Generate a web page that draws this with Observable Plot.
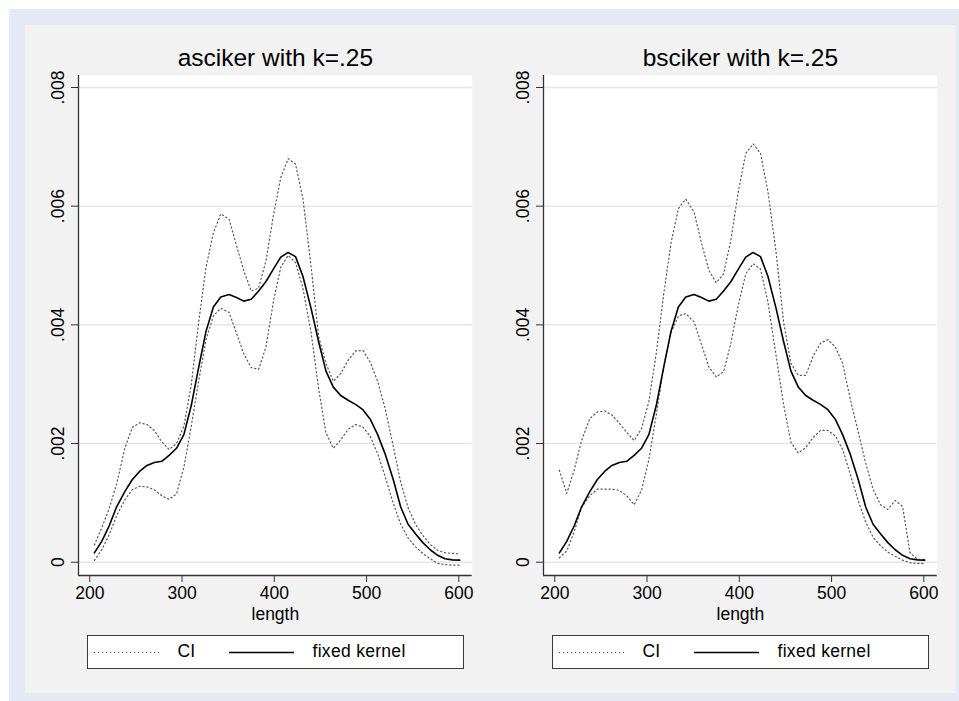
<!DOCTYPE html>
<html>
<head>
<meta charset="utf-8">
<script src="https://cdn.jsdelivr.net/npm/d3@7"></script>
<script src="https://cdn.jsdelivr.net/npm/@observablehq/plot@0.6"></script>
<style>
  html, body { margin: 0; padding: 0; background: #ffffff; width: 959px; height: 701px; overflow: hidden; }
  body { position: relative; font-family: "Liberation Sans", Arial, Helvetica, sans-serif; }
  #outer { position: absolute; left: 9px; top: 9px; width: 950px; height: 692px; background: #e5e9f3; }
  #inner { position: absolute; left: 25px; top: 25px; width: 931px; height: 668px; background: #f2f2f2; }
  .panel { position: absolute; top: 25px; }
  .legend { position: absolute; top: 635px; width: 377px; height: 34px; box-sizing: border-box;
            border: 1.3px solid #3a3a3a; background: #ffffff; }
  .legend svg { position: absolute; left: 0; top: 0; }
</style>
</head>
<body>
<div id="outer"></div>
<div id="inner"></div>
<div id="p1" class="panel" style="left:25px"></div>
<div id="p2" class="panel" style="left:490px"></div>
<div id="l1" class="legend" style="left:87px"></div>
<div id="l2" class="legend" style="left:552px"></div>
<script>
// ---- data ----
const lengthGrid = [205, 213, 221, 229, 238, 246, 254, 262, 270, 278,
  286, 294, 302, 310, 318, 326, 334, 342, 351, 359,
  367, 375, 383, 391, 399, 407, 415, 423, 431, 440,
  448, 456, 464, 472, 480, 488, 496, 504, 512, 520,
  529, 537, 545, 553, 561, 569, 577, 585, 593, 601];

const fixedKernel = [0.000157, 0.00035, 0.00061, 0.00093, 0.00119, 0.00139, 0.00153, 0.00163, 0.00168, 0.0017,
  0.0018, 0.00192, 0.00215, 0.00264, 0.00328, 0.00389, 0.0043, 0.00447, 0.00451, 0.00446,
  0.0044, 0.00443, 0.00457, 0.00473, 0.00494, 0.00514, 0.00522, 0.00515, 0.00482, 0.00427,
  0.00372, 0.00322, 0.00295, 0.00281, 0.00273, 0.00266, 0.00257, 0.00241, 0.00215, 0.00183,
  0.00139, 0.00093, 0.00064, 0.00048, 0.00033, 0.00021, 0.000116, 0.000058, 0.00004, 0.000035];

const asciUpper = [0.00029, 0.00058, 0.0009, 0.00131, 0.00192, 0.00227, 0.00235, 0.00232, 0.00222, 0.00203,
  0.0019, 0.002, 0.00229, 0.00299, 0.00404, 0.00497, 0.00555, 0.00587, 0.00578, 0.00534,
  0.00491, 0.00457, 0.00462, 0.00508, 0.00584, 0.00648, 0.0068, 0.00671, 0.00613, 0.00497,
  0.00381, 0.00335, 0.00305, 0.00318, 0.0034, 0.00356, 0.00357, 0.00337, 0.00305, 0.0026,
  0.00195, 0.00135, 0.00092, 0.00064, 0.00045, 0.0003, 0.0002, 0.00016, 0.00015, 0.00014];

const asciLower = [0.00003, 0.00021, 0.00046, 0.00078, 0.00105, 0.00122, 0.00128, 0.00127, 0.00122, 0.00112,
  0.00106, 0.00115, 0.0016, 0.00229, 0.00305, 0.00375, 0.00415, 0.00428, 0.00421, 0.00386,
  0.00351, 0.00328, 0.00325, 0.00363, 0.00439, 0.00497, 0.00517, 0.00505, 0.00462, 0.00386,
  0.00293, 0.00218, 0.00192, 0.00206, 0.00224, 0.00232, 0.00228, 0.00212, 0.00183, 0.00145,
  0.00099, 0.00064, 0.00041, 0.00026, 0.000145, 0.00006, -0.00002, -0.00004, -0.00005, -0.00005];

const bsciUpper = [0.00155, 0.00116, 0.00155, 0.00205, 0.00242, 0.00253, 0.00255, 0.00248, 0.00234, 0.00219,
  0.00205, 0.00225, 0.00271, 0.00352, 0.00451, 0.00538, 0.00596, 0.00612, 0.0059, 0.00538,
  0.00492, 0.00471, 0.00486, 0.00544, 0.00625, 0.00689, 0.00705, 0.00689, 0.00625, 0.00521,
  0.00405, 0.00335, 0.00315, 0.00315, 0.00347, 0.00369, 0.00375, 0.00363, 0.00335, 0.00277,
  0.00219, 0.00167, 0.00123, 0.00097, 0.00089, 0.00104, 0.00094, 0.00016, 0.00005, 0.00005];

const bsciLower = [0.000075, 0.00019, 0.00051, 0.00092, 0.00112, 0.00123, 0.00123, 0.00123, 0.00121, 0.00112,
  0.00097, 0.00121, 0.00173, 0.00248, 0.00329, 0.00387, 0.00415, 0.00419, 0.00405, 0.00367,
  0.00329, 0.00312, 0.00321, 0.0037, 0.00434, 0.00486, 0.00503, 0.00494, 0.00439, 0.00347,
  0.00266, 0.00202, 0.00184, 0.00193, 0.0021, 0.00222, 0.00222, 0.00213, 0.0019, 0.0015,
  0.00103, 0.00068, 0.00042, 0.00028, 0.00017, 0.0001, 0.000035, -0.00001, -0.00002, -0.00002];

const xTicks = [200, 300, 400, 500, 600];
const yTicks = [0, 0.002, 0.004, 0.006, 0.008];
const yTickLabels = ["0", ".002", ".004", ".006", ".008"];
const panelTitles = ["asciker with k=.25", "bsciker with k=.25"];
const xLabel = "length";
const legendLabels = ["CI", "fixed kernel"];

const xDomain = [187.8, 614.5];
const yDomain = [-0.000224, 0.008202];

const FONT = "'Liberation Sans', Arial, Helvetica, sans-serif";
const dotted = {stroke: "#555555", strokeWidth: 1.2, strokeDasharray: "1.2,2.8"};

function makePanel(title, upper, lower) {
  const rows = lengthGrid.map((x, i) => ({length: x, upper: upper[i], lower: lower[i], kernel: fixedKernel[i]}));
  return Plot.plot({
    width: 465,
    height: 605,
    marginLeft: 53,
    marginRight: 18.3,
    marginTop: 50,
    marginBottom: 55,
    x: {domain: xDomain},
    y: {domain: yDomain},
    style: {fontFamily: FONT, background: "transparent", color: "#000", fontSize: "17.5px", overflow: "visible"},
    marks: [
      Plot.frame({fill: "#ffffff", stroke: null}),
      Plot.gridY(yTicks, {stroke: "#e6e6e6", strokeOpacity: 1, strokeWidth: 1.5}),
      Plot.ruleX([xDomain[0]], {stroke: "#333", strokeWidth: 1.3}),
      Plot.ruleY([yDomain[0]], {stroke: "#333", strokeWidth: 1.3}),
      Plot.axisX({ticks: xTicks, tickSize: 7, tickPadding: 4, fontSize: 17.5, label: null, stroke: "#333"}),
      Plot.axisY({ticks: yTicks, tickSize: 7, tickFormat: () => "", label: null, stroke: "#333"}),
      Plot.text(yTicks, {y: d => d, text: (d, i) => yTickLabels[i], frameAnchor: "left", dx: -15,
        rotate: -90, textAnchor: "middle", lineAnchor: "bottom", fontSize: 17.5, fill: "#000"}),
      Plot.line(rows, {x: "length", y: "upper", ...dotted}),
      Plot.line(rows, {x: "length", y: "lower", ...dotted}),
      Plot.line(rows, {x: "length", y: "kernel", stroke: "#000", strokeWidth: 1.6}),
      Plot.text([title], {text: d => d, frameAnchor: "top", dy: -10, lineAnchor: "bottom", fontSize: 24.5, fill: "#000"}),
      Plot.text([xLabel], {text: d => d, frameAnchor: "bottom", dy: 44, lineAnchor: "bottom", fontSize: 17.5, fill: "#000"})
    ]
  });
}

function makeLegend(el) {
  const ns = "http://www.w3.org/2000/svg";
  const svg = document.createElementNS(ns, "svg");
  svg.setAttribute("width", 375);
  svg.setAttribute("height", 32);
  svg.style.fontFamily = FONT;
  const add = (tag, attrs, text) => {
    const e = document.createElementNS(ns, tag);
    for (const k in attrs) e.setAttribute(k, attrs[k]);
    if (text) e.textContent = text;
    svg.appendChild(e);
  };
  add("line", {x1: 6, x2: 71, y1: 16.5, y2: 16.5, stroke: "#555555", "stroke-width": 1.2, "stroke-dasharray": "1.2,2.8"});
  add("text", {x: 89.5, y: 21, "font-size": 17.5, fill: "#000"}, legendLabels[0]);
  add("line", {x1: 141, x2: 206, y1: 16.5, y2: 16.5, stroke: "#000", "stroke-width": 1.6});
  add("text", {x: 224.5, y: 21, "font-size": 17.5, fill: "#000", "letter-spacing": "0.3"}, legendLabels[1]);
  el.appendChild(svg);
}

document.getElementById("p1").appendChild(makePanel(panelTitles[0], asciUpper, asciLower));
document.getElementById("p2").appendChild(makePanel(panelTitles[1], bsciUpper, bsciLower));
makeLegend(document.getElementById("l1"));
makeLegend(document.getElementById("l2"));
</script>
</body>
</html>
